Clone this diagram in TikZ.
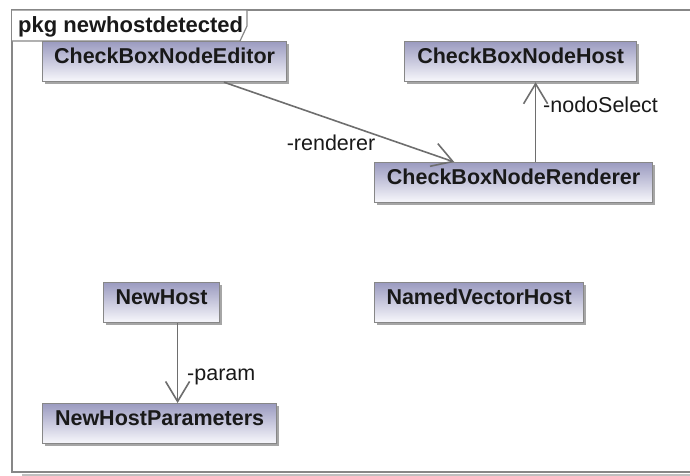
\documentclass[tikz,border=0pt]{standalone}
\usepackage{fontspec}
\setmainfont{Liberation Sans}
\usepackage{tikz}
\usetikzlibrary{arrows.meta, positioning, shadows}
\definecolor{borde}{RGB}{135,135,135}
\definecolor{lila}{RGB}{155,155,192}
\definecolor{blanco}{RGB}{248,248,252}
\definecolor{linea}{RGB}{110,110,110}
\definecolor{texto}{RGB}{25,25,25}
\tikzset{
    clase/.style={draw=borde, line width=1.2pt, top color=lila, bottom color=blanco, text=texto,
        font=\bfseries\fontsize{21.5}{24}\selectfont, inner xsep=0pt, inner ysep=0pt,
        text height=22pt, text depth=18pt, anchor=north west,
        drop shadow={shadow xshift=2pt, shadow yshift=-2pt, fill=black!35, opacity=1}},
    conn/.style={linea, line width=1.6pt, -{Straight Barb[length=20pt, width=24pt]}},
    etiq/.style={text=texto, font=\fontsize{21.5}{24}\selectfont, inner sep=0pt},
}

\begin{document}
\begin{tikzpicture}[x=1pt, y=-1pt]
    \useasboundingbox (0,0) rectangle (690,475);

    % package frame and its tab
    \draw[black!25, line width=2pt] (22,474.5) -- (700,474.5);
    \draw[borde, line width=1.4pt] (700,472) -- (12,472) -- (12,10) -- (700,10);
    \draw[borde, line width=1.2pt, fill=white] (12,10) -- (247,10) -- (247,26) -- (240,41) -- (12,41);
    \node[anchor=base west, inner sep=0pt, text=texto, font=\bfseries\fontsize{22}{24}\selectfont] (pkg) at (18,32) {pkg newhostdetected};

    % classes
    \node[clase, minimum width=244pt] (edit) at (42,41) {CheckBoxNodeEditor};
    \node[clase, minimum width=232pt] (host) at (404,41) {CheckBoxNodeHost};
    \node[clase, minimum width=278pt] (rend) at (374,162) {CheckBoxNodeRenderer};
    \node[clase, minimum width=116pt] (nhost) at (103,282) {NewHost};
    \node[clase, minimum width=209pt] (nvec) at (374,282) {NamedVectorHost};
    \node[clase, minimum width=234pt] (npar) at (42,403) {NewHostParameters};

    % associations
    \draw[conn] (edit) -- (rend);
    \draw[conn] ([xshift=22pt]rend.north) -- ([xshift=22pt]rend.north |- host.south);
    \draw[conn] ([xshift=16pt]nhost.south) -- ([xshift=16pt]nhost.south |- npar.north);

    \node[etiq] (txt1) at (331,143) {-renderer};
    \node[etiq, anchor=west] (txt2) at (543,105) {-nodoSelect};
    \node[etiq, anchor=west] (txt3) at (187,377) {-param};
\end{tikzpicture}
\end{document}
